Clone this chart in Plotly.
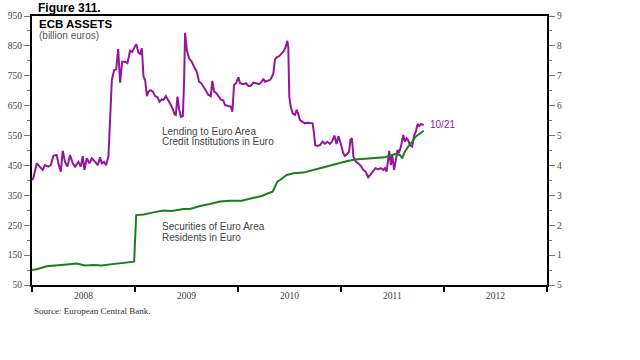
import math
import datetime as dt
import plotly.graph_objects as go

# ---- data (time as decimal years, values in billion euros) ----
lending_t = [2008.000, 2008.013, 2008.046, 2008.071, 2008.104, 2008.126, 2008.158, 2008.182, 2008.207, 2008.240,
             2008.255, 2008.279, 2008.298, 2008.320, 2008.343, 2008.369, 2008.395, 2008.417, 2008.450, 2008.473,
             2008.492, 2008.508, 2008.531, 2008.556, 2008.580, 2008.612, 2008.638, 2008.660, 2008.677, 2008.699,
             2008.718, 2008.741, 2008.757, 2008.774, 2008.796, 2008.816, 2008.835, 2008.854, 2008.874, 2008.903,
             2008.925, 2008.951, 2008.971, 2008.993, 2009.010, 2009.032, 2009.049, 2009.065, 2009.081, 2009.097,
             2009.114, 2009.129, 2009.152, 2009.172, 2009.194, 2009.217, 2009.236, 2009.259, 2009.275, 2009.298,
             2009.323, 2009.347, 2009.366, 2009.382, 2009.395, 2009.411, 2009.427, 2009.444, 2009.463, 2009.476,
             2009.485, 2009.502, 2009.524, 2009.550, 2009.573, 2009.599, 2009.621, 2009.641, 2009.663, 2009.689,
             2009.712, 2009.735, 2009.750, 2009.767, 2009.786, 2009.809, 2009.832, 2009.857, 2009.874, 2009.906,
             2009.929, 2009.945, 2009.961, 2009.981, 2010.003, 2010.019, 2010.051, 2010.078, 2010.100, 2010.123,
             2010.149, 2010.175, 2010.207, 2010.230, 2010.246, 2010.262, 2010.284, 2010.311, 2010.327, 2010.343,
             2010.359, 2010.376, 2010.401, 2010.424, 2010.447, 2010.466, 2010.479, 2010.488, 2010.498, 2010.512,
             2010.531, 2010.553, 2010.570, 2010.585, 2010.602, 2010.628, 2010.650, 2010.673, 2010.699, 2010.725,
             2010.738, 2010.750, 2010.770, 2010.796, 2010.822, 2010.845, 2010.867, 2010.893, 2010.913, 2010.937,
             2010.956, 2010.976, 2011.000, 2011.022, 2011.039, 2011.058, 2011.078, 2011.092, 2011.107, 2011.121,
             2011.146, 2011.168, 2011.194, 2011.217, 2011.240, 2011.265, 2011.291, 2011.314, 2011.337, 2011.362,
             2011.388, 2011.411, 2011.427, 2011.444, 2011.459, 2011.469, 2011.485, 2011.498, 2011.517, 2011.534,
             2011.550, 2011.563, 2011.583, 2011.605, 2011.621, 2011.638, 2011.653, 2011.670, 2011.692, 2011.712,
             2011.728, 2011.745, 2011.760, 2011.777, 2011.805]
lending_v = [401, 408, 457, 446, 435, 451, 446, 451, 482, 485,
             457, 429, 499, 462, 446, 485, 457, 446, 462, 446,
             481, 435, 474, 457, 474, 462, 451, 477, 457, 462,
             451, 481, 602, 736, 769, 772, 839, 727, 797, 797,
             792, 834, 830, 845, 856, 827, 823, 842, 747, 736,
             682, 697, 702, 697, 682, 678, 663, 671, 669, 682,
             669, 652, 638, 622, 619, 680, 638, 613, 615, 736,
             894, 836, 808, 797, 780, 764, 730, 725, 714, 697,
             686, 682, 733, 697, 693, 682, 671, 667, 652, 649,
             647, 630, 719, 725, 745, 725, 722, 725, 716, 716,
             727, 725, 722, 730, 740, 730, 733, 736, 745, 758,
             805, 812, 816, 825, 834, 850, 867, 847, 680, 647,
             624, 619, 636, 622, 602, 596, 591, 593, 593, 591,
             557, 518, 515, 518, 530, 522, 529, 522, 530, 550,
             522, 548, 520, 491, 482, 490, 495, 535, 541, 479,
             462, 457, 448, 435, 429, 410, 421, 433, 441, 437,
             441, 435, 441, 429, 474, 499, 451, 485, 435, 479,
             502, 491, 513, 552, 529, 541, 535, 518, 513, 552,
             563, 589, 582, 589, 585]

securities_t = [2008.000, 2008.046, 2008.143, 2008.240, 2008.337, 2008.434, 2008.515, 2008.595, 2008.677, 2008.757,
                2008.854, 2008.968, 2008.990, 2009.010, 2009.081, 2009.178, 2009.275, 2009.356, 2009.469, 2009.534,
                2009.631, 2009.728, 2009.825, 2009.922, 2010.036, 2010.133, 2010.230, 2010.294, 2010.337, 2010.359,
                2010.382, 2010.415, 2010.473, 2010.537, 2010.634, 2010.731, 2010.828, 2010.893, 2010.974, 2011.055,
                2011.136, 2011.233, 2011.330, 2011.427, 2011.459, 2011.524, 2011.573, 2011.595, 2011.621, 2011.653,
                2011.692, 2011.725, 2011.767, 2011.805]
securities_v = [100, 103, 113, 117, 119, 122, 115, 117, 115, 119,
                122, 126, 128, 284, 286, 293, 299, 298, 304, 304,
                314, 321, 329, 332, 332, 340, 348, 357, 362, 379,
                396, 403, 418, 424, 426, 435, 444, 451, 459, 464,
                470, 473, 474, 477, 481, 488, 485, 474, 496, 513,
                529, 546, 557, 566]

y_ticks = [50, 150, 250, 350, 450, 550, 650, 750, 850, 950]
end_label = "10/21"


def to_date(t):
    year = int(math.floor(t))
    start = dt.datetime(year, 1, 1)
    days = (dt.datetime(year + 1, 1, 1) - start).days
    return start + dt.timedelta(days=(t - year) * days)


lend_x = [to_date(t) for t in lending_t]
sec_x = [to_date(t) for t in securities_t]

PURPLE = "#95169C"
GREEN = "#1C7F1C"

fig = go.Figure()
fig.add_trace(go.Scatter(x=lend_x, y=lending_v, mode="lines",
                         line=dict(color=PURPLE, width=2), showlegend=False))
fig.add_trace(go.Scatter(x=sec_x, y=securities_v, mode="lines",
                         line=dict(color=GREEN, width=2), showlegend=False))
# invisible trace to hold right axis
fig.add_trace(go.Scatter(x=[lend_x[0]], y=[lending_v[0]], yaxis="y2", mode="markers",
                         marker=dict(opacity=0), showlegend=False, hoverinfo="skip"))

tickfont = dict(family="Liberation Serif", size=9.5, color="#444444")

yaxis_common = dict(range=[50, 950], tickvals=y_ticks, ticks="outside", ticklen=6,
                    tickcolor="#777777", tickwidth=1, showgrid=False, zeroline=False,
                    showline=True, linecolor="black", linewidth=2, tickfont=tickfont,
                    automargin=False,
                    minor=dict(dtick=50, tick0=0, ticks="outside", ticklen=3, tickcolor="#777777", showgrid=False))

fig.update_layout(
    width=640, height=360,
    margin=dict(l=32, r=93, t=16, b=75),
    paper_bgcolor="white", plot_bgcolor="white",
    xaxis=dict(type="date", range=[dt.datetime(2008, 1, 1), dt.datetime(2013, 1, 1)],
               tick0="2008-01-01", dtick="M12", tickformat="%Y", ticklabelmode="period",
               ticks="outside", ticklen=5, tickcolor="black", tickwidth=1.5,
               ticklabelstandoff=-4,
               showgrid=False, zeroline=False, showline=True, mirror=True, automargin=False,
               linecolor="black", linewidth=2, tickfont=tickfont),
    yaxis=dict(**yaxis_common, side="left"),
    yaxis2=dict(**yaxis_common, side="right", overlaying="y", matches="y"),
)

annos = [
    dict(text="<b>Figure 311.</b>", x=0.008, y=1.030, xanchor="left", yanchor="middle",
         font=dict(family="Liberation Sans", size=12, color="black")),
    dict(text="<b>ECB ASSETS</b>", x=0.01, y=0.970, xanchor="left", yanchor="middle",
         font=dict(family="Liberation Sans", size=11.5, color="black")),
    dict(text="(billion euros)", x=0.01, y=0.926, xanchor="left", yanchor="middle",
         font=dict(family="Liberation Sans", size=10, color="#555555")),
    dict(text="Lending to Euro Area", x=0.249, y=0.572, xanchor="left", yanchor="middle",
         font=dict(family="Liberation Sans", size=10, color="#444444")),
    dict(text="Credit Institutions in Euro", x=0.249, y=0.532, xanchor="left", yanchor="middle",
         font=dict(family="Liberation Sans", size=10, color="#444444")),
    dict(text="Securities of Euro Area", x=0.249, y=0.216, xanchor="left", yanchor="middle",
         font=dict(family="Liberation Sans", size=10, color="#444444")),
    dict(text="Residents in Euro", x=0.249, y=0.175, xanchor="left", yanchor="middle",
         font=dict(family="Liberation Sans", size=10, color="#444444")),
    dict(text=end_label, x=0.769, y=0.595, xanchor="left", yanchor="middle",
         font=dict(family="Liberation Sans", size=10, color=PURPLE)),
    dict(text="Source: European Central Bank.", x=0.0, y=-0.097, xanchor="left", yanchor="middle",
         font=dict(family="Liberation Serif", size=9, color="#333333")),
]
for a in annos:
    a.update(xref="paper", yref="paper", showarrow=False)
    fig.add_annotation(**a)

# the reference image is cropped just right of the right-axis labels
fig.add_shape(type="rect", xref="paper", yref="paper", x0=1.029, x1=1.3, y0=-0.35, y1=1.1,
              fillcolor="white", line=dict(width=0), layer="above")

# remove the browser's default page margin so the figure starts at the window corner
fig.write_html("out.html", config={"displayModeBar": False},
               post_script="document.body.style.margin='0';")
